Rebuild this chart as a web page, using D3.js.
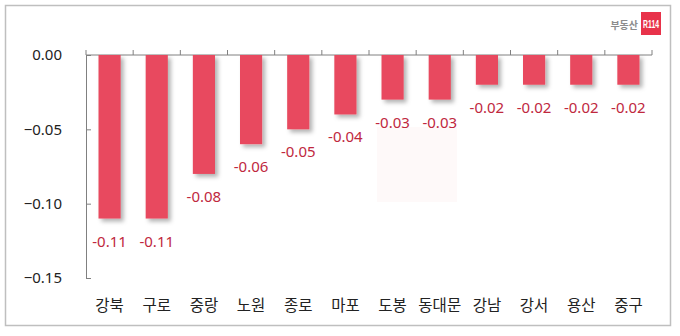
<!DOCTYPE html>
<html><head><meta charset="utf-8">
<script src="https://cdn.jsdelivr.net/npm/d3@7"></script>
<style>body{margin:0;background:#fff}</style>
</head><body>
<script>
const categories = ["강북","구로","중랑","노원","종로","마포","도봉","동대문","강남","강서","용산","중구"];
const values = [-0.11,-0.11,-0.08,-0.06,-0.05,-0.04,-0.03,-0.03,-0.02,-0.02,-0.02,-0.02];
const yTicks = [0,-0.05,-0.10,-0.15];

const W=680,H=336;
const svg=d3.select("body").append("svg").attr("width",W).attr("height",H)
  .style("font-family","'Noto Sans CJK KR','Noto Sans',sans-serif");
const defs=svg.append("defs");
const f=defs.append("filter").attr("id","sh").attr("x","-20%").attr("y","-20%").attr("width","160%").attr("height","160%");
f.append("feDropShadow").attr("dx",3).attr("dy",3).attr("stdDeviation",2).attr("flood-color","#000").attr("flood-opacity",0.3);

svg.append("rect").attr("x",5.5).attr("y",5.5).attr("width",665).attr("height",320)
  .attr("fill","#fff").attr("stroke","#bfbfbf").attr("stroke-width",1.5);

const x=d3.scaleBand().domain(categories).range([86,652]).paddingInner(0.53).paddingOuter(0.265);
const y=d3.scaleLinear().domain([0,-0.15]).range([55,278]);

// faint watermark box
svg.append("rect").attr("x",377).attr("y",127).attr("width",80).attr("height",75).attr("fill","#e8324a").attr("opacity",0.03);

// y axis
const ya=svg.append("g").attr("transform","translate(86,0)")
  .call(d3.axisRight(y).tickValues(yTicks).tickSize(5).tickFormat(d3.format(".2f")));
ya.select(".domain").attr("stroke","#808080");
ya.selectAll(".tick line").attr("stroke","#808080");
ya.selectAll(".tick text").attr("x",-24).attr("text-anchor","end").attr("font-size",15).attr("fill","#222")
  .attr("font-family","'Noto Sans','DejaVu Sans',sans-serif");

// x axis line with boundary ticks
svg.append("line").attr("x1",86).attr("x2",652).attr("y1",y(0)).attr("y2",y(0)).attr("stroke","#808080");
const bounds=d3.range(categories.length+1).map(i=>86+i*(566/categories.length));
svg.selectAll(".xt").data(bounds).join("line").attr("x1",d=>d).attr("x2",d=>d)
  .attr("y1",y(0)).attr("y2",y(0)-5).attr("stroke","#808080");

// bars
svg.selectAll(".bar").data(values).join("rect")
  .attr("x",(d,i)=>x(categories[i])).attr("width",x.bandwidth())
  .attr("y",y(0)).attr("height",d=>y(d)-y(0))
  .attr("fill","#e84a5f").attr("filter","url(#sh)");

// labels
svg.selectAll(".lbl").data(values).join("text")
  .attr("x",(d,i)=>x(categories[i])+x.bandwidth()/2).attr("y",d=>y(d)+28)
  .attr("text-anchor","middle").attr("font-size",15).attr("fill","#c0283e")
  .attr("font-family","'Noto Sans','DejaVu Sans',sans-serif")
  .text(d=>d.toFixed(2));

// category labels
svg.selectAll(".cat").data(categories).join("text")
  .attr("x",d=>x(d)+x.bandwidth()/2).attr("y",311)
  .attr("text-anchor","middle").attr("font-size",15.5).attr("fill","#222").text(d=>d);

// logo
svg.append("text").attr("x",638).attr("y",29).attr("text-anchor","end").attr("font-size",10).attr("font-weight","bold").attr("fill","#8c8c8c").text("부동산");
svg.append("rect").attr("x",641).attr("y",12).attr("width",20).attr("height",23).attr("fill","#e8324a");
svg.append("text").attr("x",643).attr("y",28).attr("font-size",10).attr("font-weight","bold").attr("fill","#fff")
  .attr("textLength",16).attr("lengthAdjust","spacingAndGlyphs")
  .attr("font-family","'Liberation Sans',sans-serif").text("R114");
</script>
</body></html>
